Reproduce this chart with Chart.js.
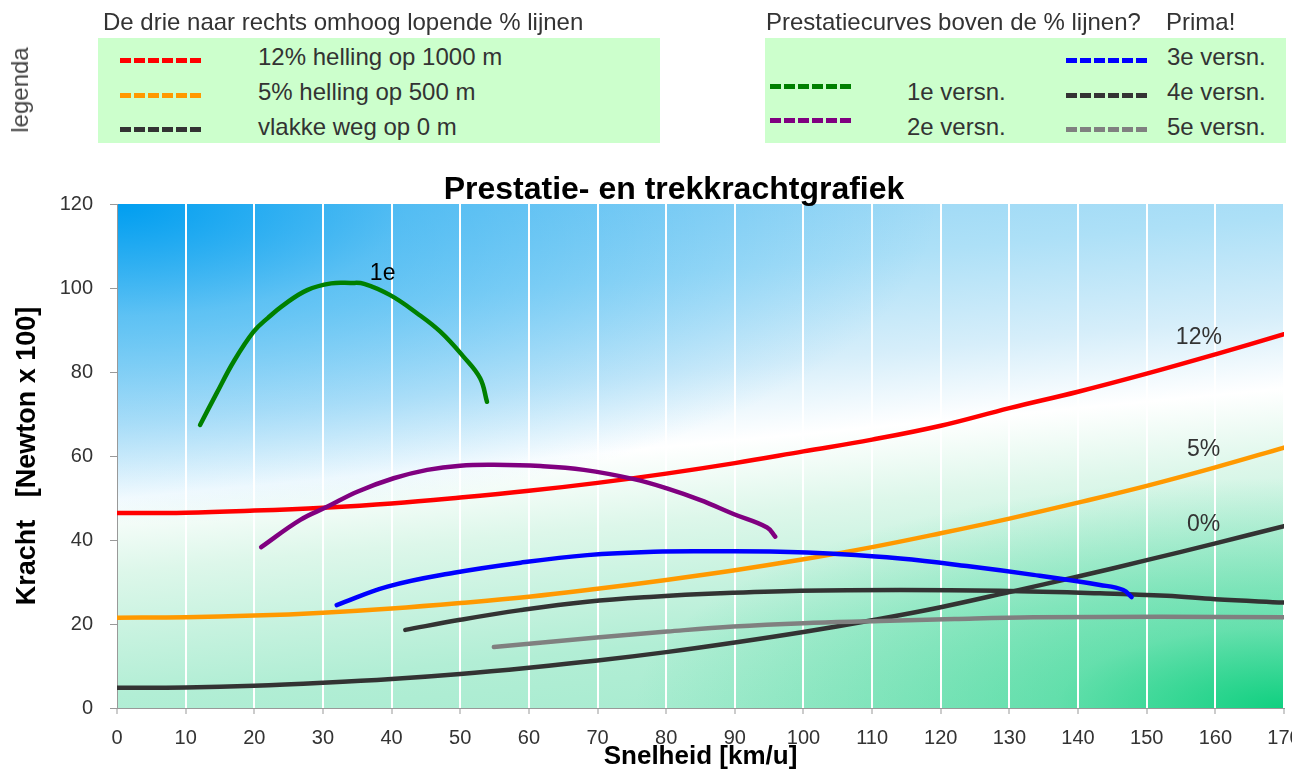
<!DOCTYPE html>
<html>
<head>
<meta charset="utf-8">
<script src="https://cdn.jsdelivr.net/npm/chart.js@4"></script>
<style>
html, body { margin: 0; padding: 0; background: #fff; }
body { width: 1292px; height: 771px; position: relative; overflow: hidden;
  font-family: "Liberation Sans", Arial, sans-serif; color: #333; }
#chart { position: absolute; left: 0; top: 0; }
.t { position: absolute; white-space: nowrap; line-height: 30px; height: 30px; font-size: 24px; }
.box { position: absolute; background: #ccffcc; }
.dash { position: absolute; width: 83px; height: 5px; }
#title { position: absolute; left: 0; width: 1348px; top: 170px; text-align: center;
  font: bold 32px "Liberation Sans", Arial, sans-serif; color: #000; line-height: 36px; }
#legenda { position: absolute; left: 20px; top: 90px; font-size: 24px; color: #444;
  transform: translate(-50%, -50%) rotate(-90deg); white-space: nowrap; }
</style>
</head>
<body>
<canvas id="chart" width="1292" height="771"></canvas>

<div id="legenda">legenda</div>
<div class="t" style="left:103px;top:7px">De drie naar rechts omhoog lopende % lijnen</div>
<div class="box" style="left:98px;top:38px;width:562px;height:105px"></div>
<div class="dash" id="d12" style="left:120px;top:58px"></div>
<div class="dash" id="d5" style="left:120px;top:93px"></div>
<div class="dash" id="d0" style="left:120px;top:127px"></div>
<div class="t" style="left:258px;top:42px">12% helling op 1000 m</div>
<div class="t" style="left:258px;top:77px">5% helling op 500 m</div>
<div class="t" style="left:258px;top:112px">vlakke weg op 0 m</div>

<div class="t" style="left:766px;top:7px">Prestatiecurves boven de % lijnen?</div>
<div class="t" style="left:1166px;top:7px">Prima!</div>
<div class="box" style="left:765px;top:38px;width:521px;height:105px"></div>
<div class="dash" id="dv1" style="left:770px;top:84px"></div>
<div class="dash" id="dv2" style="left:770px;top:118px"></div>
<div class="dash" id="dv3" style="left:1066px;top:58px"></div>
<div class="dash" id="dv4" style="left:1066px;top:93px"></div>
<div class="dash" id="dv5" style="left:1066px;top:127px"></div>
<div class="t" style="left:907px;top:77px">1e versn.</div>
<div class="t" style="left:907px;top:112px">2e versn.</div>
<div class="t" style="left:1167px;top:42px">3e versn.</div>
<div class="t" style="left:1167px;top:77px">4e versn.</div>
<div class="t" style="left:1167px;top:112px">5e versn.</div>

<div id="title">Prestatie- en trekkrachtgrafiek</div>

<script>
// snelheid in km/u, kracht in Newton x 100
const speed = [0, 10, 20, 30, 40, 50, 60, 70, 80, 90, 100, 110, 120, 130, 140, 150, 160, 170];
const kracht12 = [46.4, 46.5, 47.0, 47.7, 48.7, 50.1, 51.7, 53.6, 55.8, 58.3, 61.1, 63.9, 67.2, 71.4, 75.3, 79.6, 84.2, 89.0];
const kracht5 = [21.5, 21.6, 22.0, 22.7, 23.7, 25.0, 26.5, 28.4, 30.5, 32.8, 35.4, 38.3, 41.6, 45.1, 48.9, 52.9, 57.3, 62.0];
const kracht0 = [4.8, 4.9, 5.3, 6.0, 6.9, 8.1, 9.6, 11.3, 13.3, 15.6, 18.1, 20.9, 24.0, 27.6, 31.3, 35.2, 39.2, 43.3];

// prestatiecurves per versnelling
const v1x = [12.1, 14.5, 17.0, 19.9, 22.0, 24.3, 27.7, 31.2, 34.0, 36.0, 39.8, 43.7, 47.1, 50.5, 52.9, 53.9];
const v1y = [67.4, 74.9, 82.5, 89.6, 92.9, 96.0, 99.5, 101.1, 101.2, 101.0, 98.3, 94.0, 89.6, 83.6, 78.5, 72.9];
const v2x = [21.0, 26.7, 30.6, 35.0, 40.3, 45.2, 50.0, 54.9, 61.7, 68.0, 75.3, 80.1, 85.0, 89.8, 94.7, 95.9];
const v2y = [38.3, 44.8, 47.9, 51.5, 54.7, 56.7, 57.7, 57.9, 57.6, 56.7, 54.5, 52.3, 49.5, 46.2, 43.0, 40.8];
const v3x = [32.0, 39.4, 49.1, 58.8, 68.5, 78.2, 87.9, 96.6, 104.4, 114.1, 123.8, 133.5, 143.2, 146.6, 147.8];
const v3y = [24.5, 28.9, 32.2, 34.6, 36.4, 37.2, 37.3, 37.2, 36.7, 35.6, 33.8, 31.7, 29.3, 28.1, 26.4];
const v4x = [42.0, 50.0, 58.8, 68.5, 78.2, 87.9, 99.5, 114.1, 128.6, 143.2, 152.9, 160.0, 170.0];
const v4y = [18.6, 21.0, 23.3, 25.3, 26.5, 27.3, 27.9, 28.1, 27.9, 27.3, 26.7, 25.9, 25.1];
const v5x = [54.9, 69.9, 80.1, 89.8, 100.0, 111.2, 122.0, 133.5, 151.9, 170.0];
const v5y = [14.5, 16.8, 18.2, 19.4, 20.2, 20.7, 21.2, 21.6, 21.7, 21.6];

// tekstjes bij de lijnen (positie in grafiekwaarden)
const curveLabels = ['1e', '12%', '5%', '0%'];
const labelX = [38.7, 157.6, 158.3, 158.3];
const labelY = [103.3, 88.1, 61.4, 43.6];

const xTicks = { min: 0, max: 170, step: 10 };
const yTicks = { min: 0, max: 120, step: 20 };

const FONT = '"Liberation Sans", Arial, sans-serif';
const colors = {
  v1: '#008000', v2: '#800080', v3: '#0000ff', v4: '#333333', v5: '#808080',
  k12: '#ff0000', k5: '#ff9900', k0: '#333333'
};

// legenda streepjes
Object.entries({ d12: 'k12', d5: 'k5', d0: 'k0', dv1: 'v1', dv2: 'v2', dv3: 'v3', dv4: 'v4', dv5: 'v5' })
  .forEach(([id, c]) => {
    document.getElementById(id).style.background =
      'repeating-linear-gradient(90deg,' + colors[c] + ' 0 11px, transparent 11px 14px)';
  });

function line(label, xs, ys, color) {
  return {
    label,
    data: xs.map((x, i) => ({ x, y: ys[i] })),
    borderColor: color,
    borderWidth: 4.5,
    pointRadius: 0,
    fill: false,
    tension: 0.4,
    borderCapStyle: 'round',
    borderJoinStyle: 'round'
  };
}

function glow(ctx, x, y, rx, ry, rgb, stops) {
  ctx.save();
  ctx.translate(x, y);
  ctx.scale(rx / ry, 1);
  const g = ctx.createRadialGradient(0, 0, 0, 0, 0, ry);
  stops.forEach(([o, a]) => g.addColorStop(o, 'rgba(' + rgb + ',' + a + ')'));
  ctx.fillStyle = g;
  ctx.fillRect(-ry * 2, -ry * 2, ry * 4, ry * 4);
  ctx.restore();
}

const bgPlugin = {
  id: 'bg',
  beforeDraw(chart) {
    const { ctx, chartArea: a } = chart;
    const w = a.right - a.left, h = a.bottom - a.top;
    const cx = (a.left + a.right) / 2, cy = (a.top + a.bottom) / 2;
    ctx.save();
    ctx.beginPath();
    ctx.rect(a.left, a.top, w, h);
    ctx.clip();
    const dx = 0.094 * 306, dy = 0.9956 * 306;
    const g = ctx.createLinearGradient(cx - dx, cy - dy, cx + dx, cy + dy);
    g.addColorStop(0, '#8fd2f4');
    g.addColorStop(0.2, '#ade0f7');
    g.addColorStop(0.36, '#d6eefa');
    g.addColorStop(0.48, '#ffffff');
    g.addColorStop(0.6, '#ddf7ea');
    g.addColorStop(0.8, '#b2eed5');
    g.addColorStop(1, '#a2eacd');
    ctx.fillStyle = g;
    ctx.fillRect(a.left, a.top, w, h);
    glow(ctx, a.left, a.top, 820, 320, '0,158,240', [[0, 1], [0.35, 0.45], [1, 0]]);
    glow(ctx, a.right, a.bottom, 650, 230, '16,208,128', [[0, 1], [0.35, 0.45], [1, 0]]);
    ctx.restore();
  }
};

const labelPlugin = {
  id: 'curveLabels',
  afterDatasetsDraw(chart) {
    const { ctx, scales: { x, y } } = chart;
    ctx.save();
    ctx.font = '23px ' + FONT;
    ctx.textAlign = 'center';
    ctx.textBaseline = 'middle';
    curveLabels.forEach((t, i) => {
      ctx.fillStyle = i === 0 ? '#000' : '#333';
      ctx.fillText(t, x.getPixelForValue(labelX[i]), y.getPixelForValue(labelY[i]));
    });
    ctx.restore();
  }
};

new Chart(document.getElementById('chart'), {
  type: 'line',
  data: {
    datasets: [
      line('1e versn.', v1x, v1y, colors.v1),
      line('2e versn.', v2x, v2y, colors.v2),
      line('3e versn.', v3x, v3y, colors.v3),
      line('4e versn.', v4x, v4y, colors.v4),
      line('5e versn.', v5x, v5y, colors.v5),
      line('12% helling op 1000 m', speed, kracht12, colors.k12),
      line('5% helling op 500 m', speed, kracht5, colors.k5),
      line('vlakke weg op 0 m', speed, kracht0, colors.k0)
    ]
  },
  options: {
    responsive: false,
    animation: false,
    layout: { padding: { top: 204, right: 8, left: 0, bottom: 0 } },
    plugins: { legend: { display: false }, tooltip: { enabled: false } },
    scales: {
      x: {
        type: 'linear',
        min: xTicks.min, max: xTicks.max,
        ticks: { stepSize: xTicks.step, color: '#333', font: { family: FONT, size: 20 }, padding: 12, maxRotation: 0 },
        grid: { color: '#ffffff', lineWidth: 2, tickColor: '#999', tickWidth: 1, tickLength: 6 },
        border: { color: '#999', width: 1 },
        title: { display: true, text: 'Snelheid [km/u]', color: '#000',
          font: { family: FONT, size: 26, weight: 'bold', lineHeight: 1 }, padding: { top: 0, bottom: 1 } },
        afterFit(s) { s.height = 63; s.paddingLeft = 0; s.paddingRight = 0; }
      },
      y: {
        min: yTicks.min, max: yTicks.max,
        ticks: { stepSize: yTicks.step, color: '#333', font: { family: FONT, size: 20 }, padding: 17 },
        grid: { drawOnChartArea: false, color: '#999', tickColor: '#999', tickLength: 7 },
        border: { color: '#999', width: 1 },
        title: { display: true, text: 'Kracht   [Newton x 100]', color: '#000',
          font: { family: FONT, size: 27, weight: 'bold', lineHeight: 1 }, padding: { top: 14, bottom: 0 } },
        afterFit(s) { s.width = 117; s.paddingTop = 0; s.paddingBottom = 0; }
      }
    }
  },
  plugins: [bgPlugin, labelPlugin]
});
</script>
</body>
</html>
